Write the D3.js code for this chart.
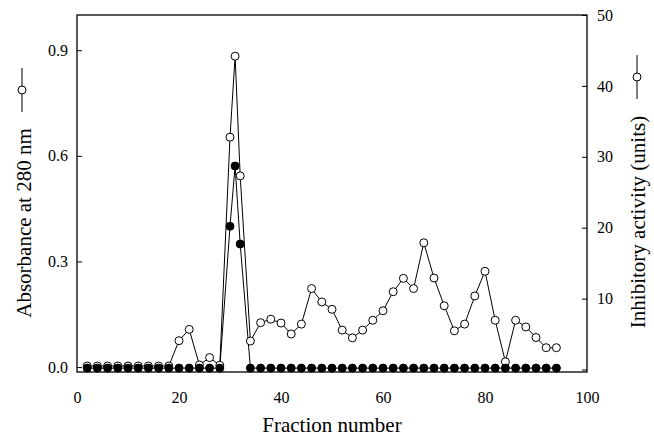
<!DOCTYPE html>
<html>
<head>
<meta charset="utf-8">
<script src="https://cdn.jsdelivr.net/npm/d3@7"></script>
<style>
body { margin: 0; background: #fff; }
text { font-family: "Liberation Serif", "Times New Roman", serif; }
</style>
</head>
<body>
<script>
const width = 654
const height = 437

// open circles - absorbance (left axis)
const absFractions = [2,4,6,8,10,12,14,16,18,20,22,24,26,28,30,31,32,34,36,38,40,42,44,46,48,50,52,54,56,58,60,62,64,66,68,70,72,74,76,78,80,82,84,86,88,90,92,94]
const absValues = [0.003,0.003,0.003,0.003,0.003,0.003,0.003,0.003,0.003,0.075,0.107,0.006,0.027,0.005,0.653,0.883,0.543,0.074,0.126,0.136,0.125,0.094,0.122,0.223,0.185,0.164,0.105,0.083,0.105,0.133,0.160,0.214,0.252,0.223,0.353,0.253,0.174,0.103,0.122,0.202,0.272,0.133,0.015,0.133,0.114,0.084,0.055,0.055]

// filled circles - inhibitory activity (right axis)
const actFractions = [2,4,6,8,10,12,14,16,18,20,22,24,26,28,30,31,32,34,36,38,40,42,44,46,48,50,52,54,56,58,60,62,64,66,68,70,72,74,76,78,80,82,84,86,88,90,92,94]
const actValues = [0.2,0.2,0.2,0.2,0.2,0.2,0.2,0.2,0.2,0.2,0.2,0.2,0.2,0.2,20.2,28.7,17.7,0.2,0.2,0.2,0.2,0.2,0.2,0.2,0.2,0.2,0.2,0.2,0.2,0.2,0.2,0.2,0.2,0.2,0.2,0.2,0.2,0.2,0.2,0.2,0.2,0.2,0.2,0.2,0.2,0.2,0.2,0.2]

const xTicks = [0,20,40,60,80,100]
const leftTicks = [0,0.3,0.6,0.9]
const rightTicks = [0,10,20,30,40,50]

const mLeft = 77, mRight = 587, mTop = 15, mBottom = 372

const svg = d3.select('body').append('svg')
  .attr('width', width)
  .attr('height', height)

const x = d3.scaleLinear().domain([0,100]).range([mLeft,mRight])
const yL = d3.scaleLinear().domain([-0.014,1.0]).range([mBottom,mTop])
const yR = d3.scaleLinear().domain([-0.35,50]).range([mBottom,mTop])

// frame
svg.append('rect')
  .attr('x', mLeft).attr('y', mTop)
  .attr('width', mRight-mLeft).attr('height', mBottom-mTop)
  .attr('fill','none').attr('stroke','black').attr('stroke-width',1.3)

const gx = svg.append('g')
  .attr('transform', `translate(0,${mBottom})`)
  .call(d3.axisBottom(x).tickValues(xTicks).tickSize(0).tickPadding(20).tickFormat(d3.format('d')))
const gl = svg.append('g')
  .attr('transform', `translate(${mLeft},0)`)
  .call(d3.axisLeft(yL).tickValues(leftTicks).tickSize(-5).tickPadding(9).tickFormat(d3.format('.1f')))
const gr = svg.append('g')
  .attr('transform', `translate(${mRight},0)`)
  .call(d3.axisRight(yR).tickValues(rightTicks).tickSize(-5).tickPadding(10).tickFormat(d => d === 0 ? '' : d))

for (const g of [gx, gl, gr]) {
  g.select('.domain').remove()
  g.selectAll('text').attr('font-size', 16).attr('fill','black')
    .style('font-family','"Liberation Serif", serif')
  g.selectAll('line').attr('stroke','black')
}

const absData = absFractions.map((f,i) => ({f, v: absValues[i]}))
const actData = actFractions.map((f,i) => ({f, v: actValues[i]}))

const lineL = d3.line().x(d => x(d.f)).y(d => yL(d.v))
const lineR = d3.line().x(d => x(d.f)).y(d => yR(d.v))

svg.append('path').attr('d', lineL(absData))
  .attr('fill','none').attr('stroke','black').attr('stroke-width',1)
svg.append('path').attr('d', lineR(actData))
  .attr('fill','none').attr('stroke','black').attr('stroke-width',1)

svg.selectAll('circle.abs').data(absData).join('circle')
  .attr('class','abs')
  .attr('cx', d => x(d.f)).attr('cy', d => yL(d.v)).attr('r', 4)
  .attr('fill','white').attr('stroke','black').attr('stroke-width',1)

svg.selectAll('circle.act').data(actData).join('circle')
  .attr('class','act')
  .attr('cx', d => x(d.f)).attr('cy', d => yR(d.v)).attr('r', 4)
  .attr('fill','black').attr('stroke','black').attr('stroke-width',1)

// axis titles
svg.append('text')
  .attr('x', 332).attr('y', 432)
  .attr('text-anchor','middle').attr('font-size', 21)
  .text('Fraction number')

svg.append('text')
  .attr('transform','translate(31,223) rotate(-90)')
  .attr('text-anchor','middle').attr('font-size', 21)
  .text('Absorbance at 280 nm')

svg.append('text')
  .attr('transform','translate(645,222) rotate(-90)')
  .attr('text-anchor','middle').attr('font-size', 21)
  .text('Inhibitory activity (units)')

// legend glyphs next to titles
const legends = [{cx: 22, cy: 90}, {cx: 637, cy: 77}]
const lg = svg.selectAll('g.leg').data(legends).join('g').attr('class','leg')
lg.append('line')
  .attr('x1', d => d.cx).attr('x2', d => d.cx)
  .attr('y1', d => d.cy - 22).attr('y2', d => d.cy + 22)
  .attr('stroke','black')
lg.append('circle')
  .attr('cx', d => d.cx).attr('cy', d => d.cy).attr('r', 4)
  .attr('fill','white').attr('stroke','black')
</script>
</body>
</html>
